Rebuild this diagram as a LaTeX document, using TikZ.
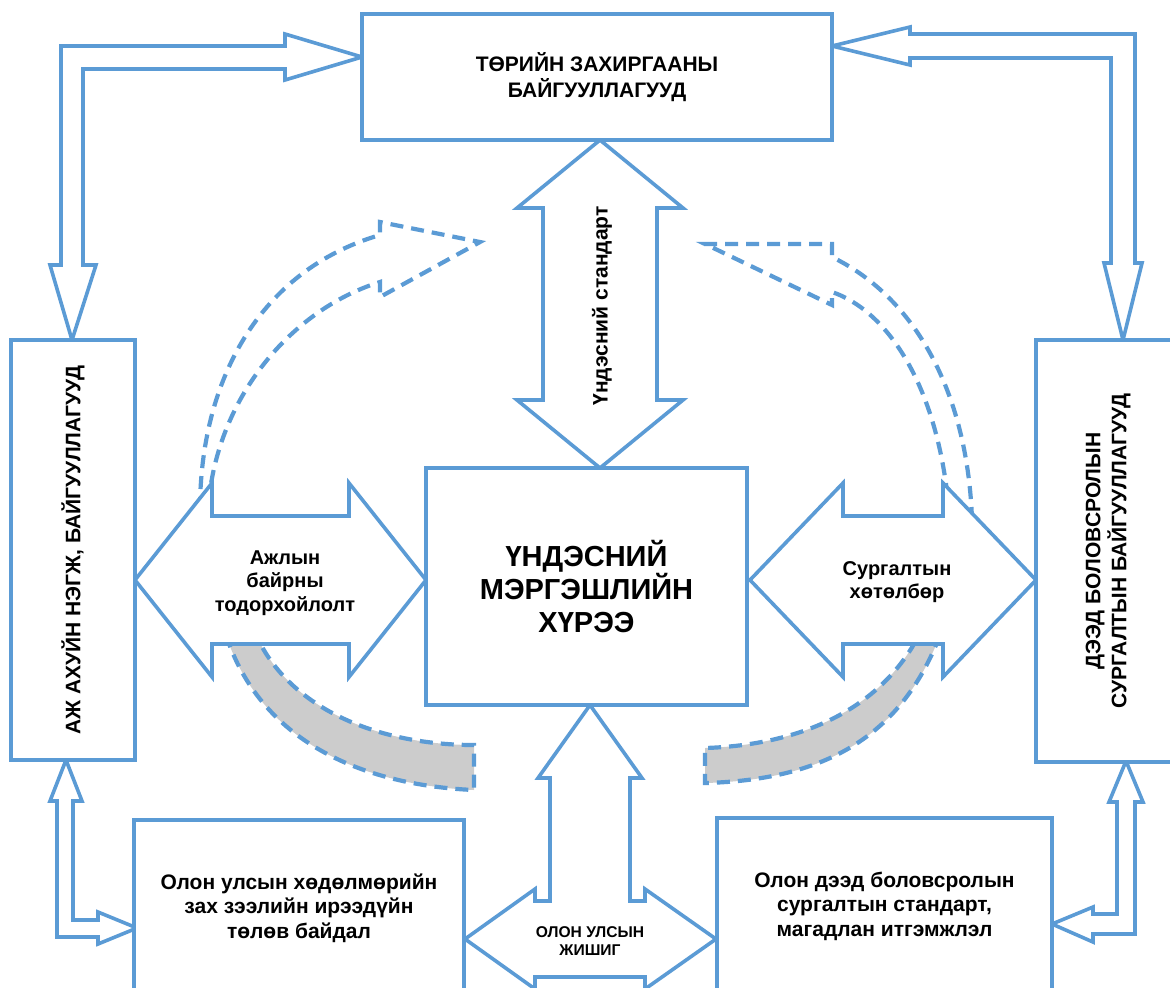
\documentclass[tikz,border=0pt]{standalone}
\usepackage{fontspec}
\setmainfont{Liberation Sans}
\usepackage{xcolor}
\definecolor{FrameBlue}{HTML}{5B9BD5}
\definecolor{BandGray}{HTML}{CCCCCC}
\usepackage{tikz}
\tikzset{
  % Box styles
  orgbox/.style={rectangle, draw=FrameBlue, line width=2pt, fill=white, inner sep=0pt, align=center, font=\bfseries\fontsize{10.5pt}{13pt}\selectfont},
  corebox/.style={orgbox, font=\bfseries\fontsize{14.5pt}{16.5pt}\selectfont},
  % Arrow styles
  blockarrow/.style={draw=FrameBlue, line width=1.8pt, fill=white, line join=miter},
  dashedarrow/.style={draw=FrameBlue, line width=2.1pt, dash pattern=on 6.5pt off 4pt},
  grayband/.style={dashedarrow, fill=BandGray},
  % Label styles
  arrowlabel/.style={align=center, inner sep=0pt, font=\bfseries\fontsize{10pt}{11.7pt}\selectfont},
  smalllabel/.style={align=center, inner sep=0pt, font=\bfseries\fontsize{7.8pt}{9pt}\selectfont}
}

\begin{document}
\begin{tikzpicture}[x=0.5pt, y=-0.5pt]
  \clip (0,0) rectangle (1170,987);

  % Dashed curved arrows
  \draw[dashedarrow] (200,510) .. controls (200,380) and (260,270) .. (380,235)
    -- (380,222) -- (480,242) -- (380,297) -- (380,282)
    .. controls (290,310) and (215,400) .. (208,510) -- cycle;
  \draw[dashedarrow] (972,520) .. controls (968,400) and (920,300) .. (832,257)
    -- (832,244) -- (705,244) -- (832,305) -- (832,292)
    .. controls (885,310) and (935,380) .. (948,500) -- cycle;

  % Gray bands
  \draw[grayband] (226,635) .. controls (260,740) and (360,785) .. (474,790)
    -- (474,745) .. controls (380,745) and (290,710) .. (256,635) -- cycle;
  \draw[grayband] (940,635) .. controls (900,740) and (820,780) .. (705,783)
    -- (705,748) .. controls (800,745) and (880,710) .. (919,635) -- cycle;

  % Block arrows
  \draw[blockarrow] (135,580) -- (212,483) -- (212,516) -- (349,516) -- (349,483) -- (426,580)
    -- (349,677) -- (349,644) -- (212,644) -- (212,677) -- cycle;
  \draw[blockarrow] (750,580) -- (843,483) -- (843,516) -- (943,516) -- (943,483) -- (1036,580)
    -- (943,677) -- (943,644) -- (843,644) -- (843,677) -- cycle;
  \draw[blockarrow] (600,140) -- (683,208) -- (657,208) -- (657,400) -- (683,400) -- (600,468)
    -- (517,400) -- (543,400) -- (543,208) -- (517,208) -- cycle;
  \draw[blockarrow] (590,705) -- (642,778) -- (630,778) -- (630,901) -- (645,901) -- (645,889)
    -- (716,939) -- (645,989) -- (645,977) -- (535,977) -- (535,989) -- (465,939)
    -- (535,889) -- (535,901) -- (550,901) -- (550,778) -- (538,778) -- cycle;
  \draw[blockarrow] (362,57) -- (285,34) -- (285,46) -- (61,46) -- (61,265) -- (50,265)
    -- (72,340) -- (96,265) -- (83,265) -- (83,69) -- (285,69) -- (285,80) -- cycle;
  \draw[blockarrow] (832,46) -- (910,27) -- (910,34) -- (1135,34) -- (1135,263) -- (1142,263)
    -- (1123,340) -- (1104,263) -- (1111,263) -- (1111,58) -- (910,58) -- (910,65) -- cycle;
  \draw[blockarrow] (66,760) -- (82,801) -- (73,801) -- (73,920) -- (98,920) -- (98,912)
    -- (137,928) -- (98,944) -- (98,937) -- (57,937) -- (57,801) -- (50,801) -- cycle;
  \draw[blockarrow] (1126,761) -- (1143,802) -- (1135,802) -- (1135,934) -- (1093,934) -- (1093,942)
    -- (1052,924) -- (1093,907) -- (1093,914) -- (1117,914) -- (1117,802) -- (1109,802) -- cycle;

  % Boxes
  \node[orgbox, minimum width=235pt, minimum height=63pt] (gov) at (597,77) {ТӨРИЙН ЗАХИРГААНЫ\\БАЙГУУЛЛАГУУД};
  \node[orgbox, rotate=90, minimum width=210pt, minimum height=62pt] (biz) at (73,550) {АЖ АХУЙН НЭГЖ, БАЙГУУЛЛАГУУД};
  \node[orgbox, rotate=90, minimum width=211pt, minimum height=72pt] (uni) at (1108,551) {ДЭЭД БОЛОВСРОЛЫН\\СУРГАЛТЫН БАЙГУУЛЛАГУУД};
  \node[corebox, minimum width=160.5pt, minimum height=118.5pt] (nqf) at (586.5,586.5) {ҮНДЭСНИЙ\\МЭРГЭШЛИЙН\\ХҮРЭЭ};
  \node[orgbox, minimum width=165pt, minimum height=88pt, font=\bfseries\fontsize{10.5pt}{12.3pt}\selectfont] (labour) at (299,908) {Олон улсын хөдөлмөрийн\\зах зээлийн ирээдүйн\\төлөв байдал};
  \node[orgbox, minimum width=167.5pt, minimum height=88pt, font=\bfseries\fontsize{10.5pt}{12.3pt}\selectfont] (hes) at (884.5,906) {Олон дээд боловсролын\\сургалтын стандарт,\\магадлан итгэмжлэл};

  % Arrow labels
  \node[arrowlabel] (joblabel) at (285,583) {Ажлын\\байрны\\тодорхойлолт};
  \node[arrowlabel] (curlabel) at (897,582) {Сургалтын\\хөтөлбөр};
  \node[arrowlabel, rotate=90, font=\bfseries\fontsize{10.5pt}{12pt}\selectfont] (stdlabel) at (602,306) {Үндэсний стандарт};
  \node[smalllabel] (benchlabel) at (590,941) {ОЛОН УЛСЫН\\ЖИШИГ};
\end{tikzpicture}
\end{document}
